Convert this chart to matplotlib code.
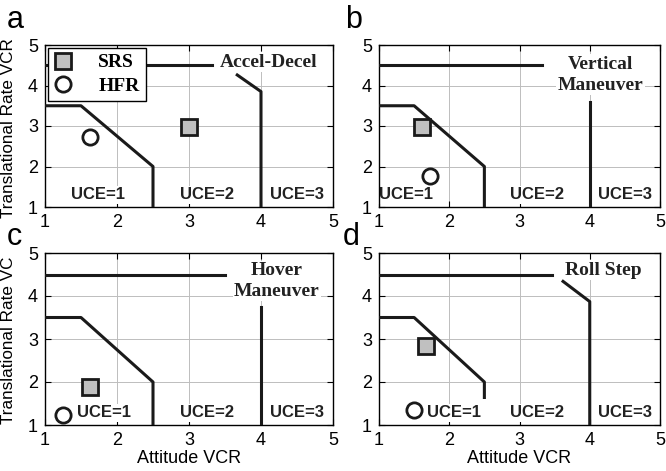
import matplotlib.pyplot as plt
from matplotlib.lines import Line2D

# data
panel_labels = ['a', 'b', 'c', 'd']
maneuvers = ['Accel-Decel', 'Vertical\nManeuver', 'Hover\nManeuver', 'Roll Step']
maneuver_xy = [(4.79, 4.58), (4.15, 4.27), (4.22, 4.35), (4.2, 4.6)]
maneuver_ha = ['right', 'center', 'center', 'center']

srs_x = [3.0, 1.61, 1.62, 1.67]
srs_y = [2.98, 2.98, 1.88, 2.84]
hfr_x = [1.63, 1.73, 1.25, 1.5]
hfr_y = [2.73, 1.77, 1.24, 1.36]

# UCE boundaries
top_line_end = [3.32, 3.32, 3.5, 3.46]
b12_x = [1.0, 1.5, 2.5, 2.5]
b12_y = [3.5, 3.5, 2.0, 1.0]
b12_bottom = [1.0, 1.0, 1.0, 1.64]
b23_x = [[3.67, 4.0, 4.0], [4.0, 4.0], [4.0, 4.0], [3.62, 4.0, 4.0]]
b23_y = [[4.26, 3.85, 1.0], [3.59, 1.0], [3.75, 1.0], [4.34, 3.87, 1.0]]

uce_text = ['UCE=1', 'UCE=2', 'UCE=3']
uce_x = [[1.74, 3.25, 4.5], [1.38, 3.25, 4.5], [1.82, 3.25, 4.5], [2.07, 3.25, 4.5]]
uce_y = [1.3, 1.3, 1.28, 1.28]

ylabels = ['Translational Rate VCR', '', 'Translational Rate VC', '']

W, H = 666, 471
fig = plt.figure(figsize=(W / 100, H / 100), dpi=100)
boxes = [(45, 45, 333, 207), (379, 45, 660, 207),
         (45, 253, 333, 425), (379, 253, 660, 425)]
label_px = [(7, 28), (345, 28), (7, 245), (343, 245)]

sans = 'Liberation Sans'
serif = 'Liberation Serif'
lc = '#1a1a1a'

for i in range(4):
    x0, y0, x1, y1 = boxes[i]
    ax = fig.add_axes([x0 / W, 1 - y1 / H, (x1 - x0) / W, (y1 - y0) / H])
    ax.set_xlim(1, 5)
    ax.set_ylim(1, 5)
    ax.set_xticks([1, 2, 3, 4, 5])
    ax.set_yticks([1, 2, 3, 4, 5])
    ax.grid(True, color='#bdbdbd', lw=0.7)
    ax.set_axisbelow(True)
    ax.tick_params(direction='in', top=True, right=True, length=4,
                   labelsize=13, pad=5)
    for lab in ax.get_xticklabels() + ax.get_yticklabels():
        lab.set_family(sans)
    for sp in ax.spines.values():
        sp.set_linewidth(1.0)

    ax.plot([1, top_line_end[i]], [4.5, 4.5], color=lc, lw=2.2, zorder=3)
    ax.plot(b12_x, b12_y[:3] + [b12_bottom[i]], color=lc, lw=2.2, zorder=3)
    ax.plot(b23_x[i], b23_y[i], color=lc, lw=2.2, zorder=3)

    for t, ux in zip(uce_text, uce_x[i]):
        ax.text(ux, uce_y[i], t, ha='center', va='center', fontsize=12,
                fontweight='bold', family=sans, color='#222222', zorder=2,
                bbox=dict(facecolor='white', edgecolor='none', pad=1))

    mx, my = maneuver_xy[i]
    ax.text(mx, my, maneuvers[i], ha=maneuver_ha[i], va='center',
            fontsize=14, fontweight='bold', family=serif, color='#222222',
            multialignment='center', linespacing=1.3, zorder=2,
            bbox=dict(facecolor='white', edgecolor='none', pad=1))

    ax.plot(srs_x[i], srs_y[i], 's', ms=11, mfc='#c0c0c0', mec=lc,
            mew=2, zorder=5)
    ax.plot(hfr_x[i], hfr_y[i], 'o', ms=11, mfc='white', mec=lc,
            mew=2, zorder=5)

    if ylabels[i]:
        ax.set_ylabel(ylabels[i], fontsize=12.3, family=sans)
        ax.yaxis.set_label_coords((16 - x0) / (x1 - x0), 0.49)
    if i >= 2:
        ax.set_xlabel('Attitude VCR', fontsize=13, family=sans, labelpad=1)

    lx, ly = label_px[i]
    fig.text(lx / W, 1 - ly / H, panel_labels[i],
             fontsize=22, family=sans, va='baseline', ha='left')

    if i == 0:
        handles = [Line2D([], [], ls='none', marker='s', ms=11,
                          mfc='#c0c0c0', mec=lc, mew=2, label='SRS'),
                   Line2D([], [], ls='none', marker='o', ms=11,
                          mfc='white', mec=lc, mew=2, label='HFR')]
        leg = ax.legend(handles=handles, loc='upper left',
                        bbox_to_anchor=(0.01, 0.982), frameon=True,
                        fancybox=False, edgecolor='black', framealpha=1,
                        prop={'family': serif, 'weight': 'bold', 'size': 14},
                        handlelength=1.0, handletextpad=1.3,
                        borderpad=0.3, labelspacing=0.3,
                        borderaxespad=0)
        leg.get_frame().set_linewidth(1.0)
        leg.set_zorder(6)

fig.savefig('out.png', dpi=100)
